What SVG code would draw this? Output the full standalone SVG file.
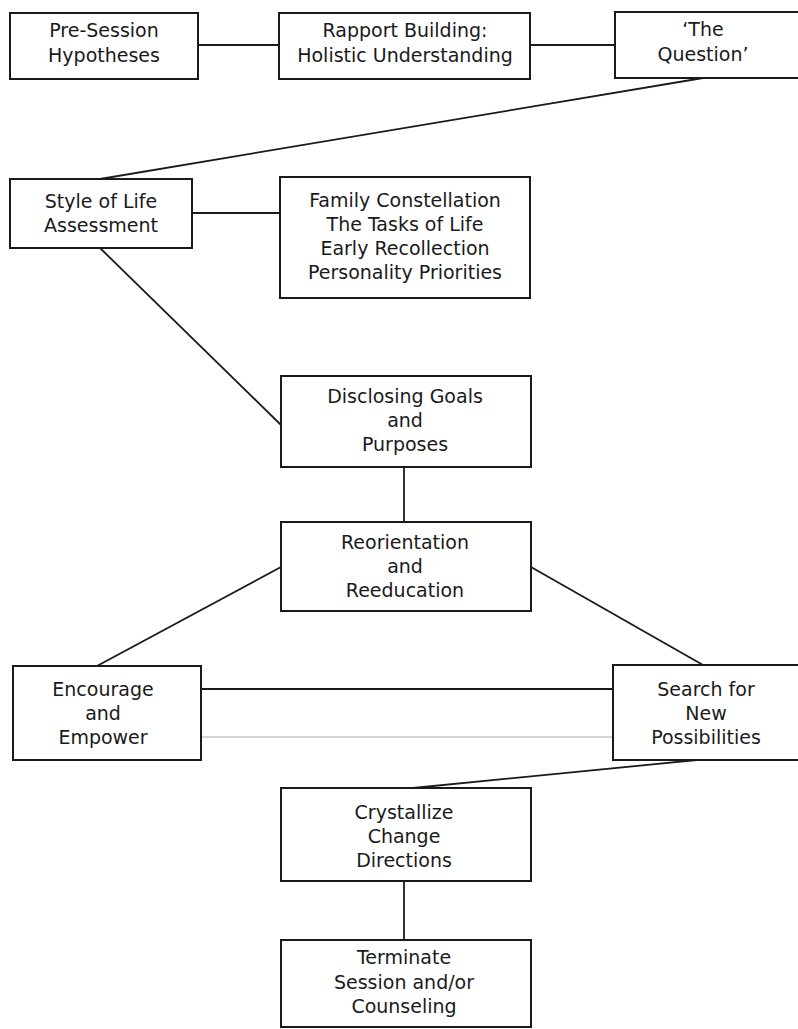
<svg xmlns="http://www.w3.org/2000/svg" width="798" height="1029" viewBox="0 0 798 1029">
<style>
.box{fill:#fff;stroke:#1a1a1a;stroke-width:2}
.ln{stroke:#1a1a1a;stroke-width:1.8;fill:none}
.faint{stroke:#c8c8c8;stroke-width:1.5;fill:none}
text{font-family:"DejaVu Sans","Liberation Sans",sans-serif;font-size:19px;fill:#1a1a1a;text-anchor:middle}
</style>
<rect width="798" height="1029" fill="#fff"/>
<g id="connectors">
<line class="ln" x1="198" y1="45" x2="279" y2="45"/>
<line class="ln" x1="530" y1="45" x2="615" y2="45"/>
<line class="ln" x1="703" y1="78" x2="100" y2="179"/>
<line class="ln" x1="192" y1="213" x2="280" y2="213"/>
<line class="ln" x1="100" y1="248" x2="281" y2="425"/>
<line class="ln" x1="404" y1="467" x2="404" y2="522"/>
<line class="ln" x1="281" y1="567" x2="97" y2="666"/>
<line class="ln" x1="531" y1="567" x2="703" y2="665"/>
<line class="ln" x1="201" y1="689" x2="613" y2="689"/>
<line class="faint" x1="201" y1="737" x2="613" y2="737"/>
<line class="ln" x1="697" y1="760" x2="413" y2="788"/>
<line class="ln" x1="404" y1="881" x2="404" y2="940"/>
</g>
<g id="pre-session">
<rect class="box" x="10" y="13" width="188" height="66"/>
<text x="104" y="37">Pre-Session</text>
<text x="104" y="62">Hypotheses</text>
</g>
<g id="rapport">
<rect class="box" x="279" y="13" width="251" height="66"/>
<text x="405" y="37">Rapport Building:</text>
<text x="405" y="62">Holistic Understanding</text>
</g>
<g id="question">
<rect class="box" x="615" y="12" width="200" height="66"/>
<text x="703" y="36">‘The</text>
<text x="703" y="61">Question’</text>
</g>
<g id="style-of-life">
<rect class="box" x="10" y="179" width="182" height="69"/>
<text x="101" y="208">Style of Life</text>
<text x="101" y="232">Assessment</text>
</g>
<g id="family">
<rect class="box" x="280" y="177" width="250" height="121"/>
<text x="405" y="207">Family Constellation</text>
<text x="405" y="231">The Tasks of Life</text>
<text x="405" y="255">Early Recollection</text>
<text x="405" y="279">Personality Priorities</text>
</g>
<g id="disclosing">
<rect class="box" x="281" y="376" width="250" height="91"/>
<text x="405" y="403">Disclosing Goals</text>
<text x="405" y="427">and</text>
<text x="405" y="451">Purposes</text>
</g>
<g id="reorientation">
<rect class="box" x="281" y="522" width="250" height="89"/>
<text x="405" y="549">Reorientation</text>
<text x="405" y="573">and</text>
<text x="405" y="597">Reeducation</text>
</g>
<g id="encourage">
<rect class="box" x="13" y="666" width="188" height="94"/>
<text x="103" y="696">Encourage</text>
<text x="103" y="720">and</text>
<text x="103" y="744">Empower</text>
</g>
<g id="search">
<rect class="box" x="613" y="665" width="200" height="95"/>
<text x="706" y="696">Search for</text>
<text x="706" y="720">New</text>
<text x="706" y="744">Possibilities</text>
</g>
<g id="crystallize">
<rect class="box" x="281" y="788" width="250" height="93"/>
<text x="404" y="819">Crystallize</text>
<text x="404" y="843">Change</text>
<text x="404" y="867">Directions</text>
</g>
<g id="terminate">
<rect class="box" x="281" y="940" width="250" height="87"/>
<text x="404" y="964">Terminate</text>
<text x="404" y="989">Session and/or</text>
<text x="404" y="1013">Counseling</text>
</g>
</svg>
